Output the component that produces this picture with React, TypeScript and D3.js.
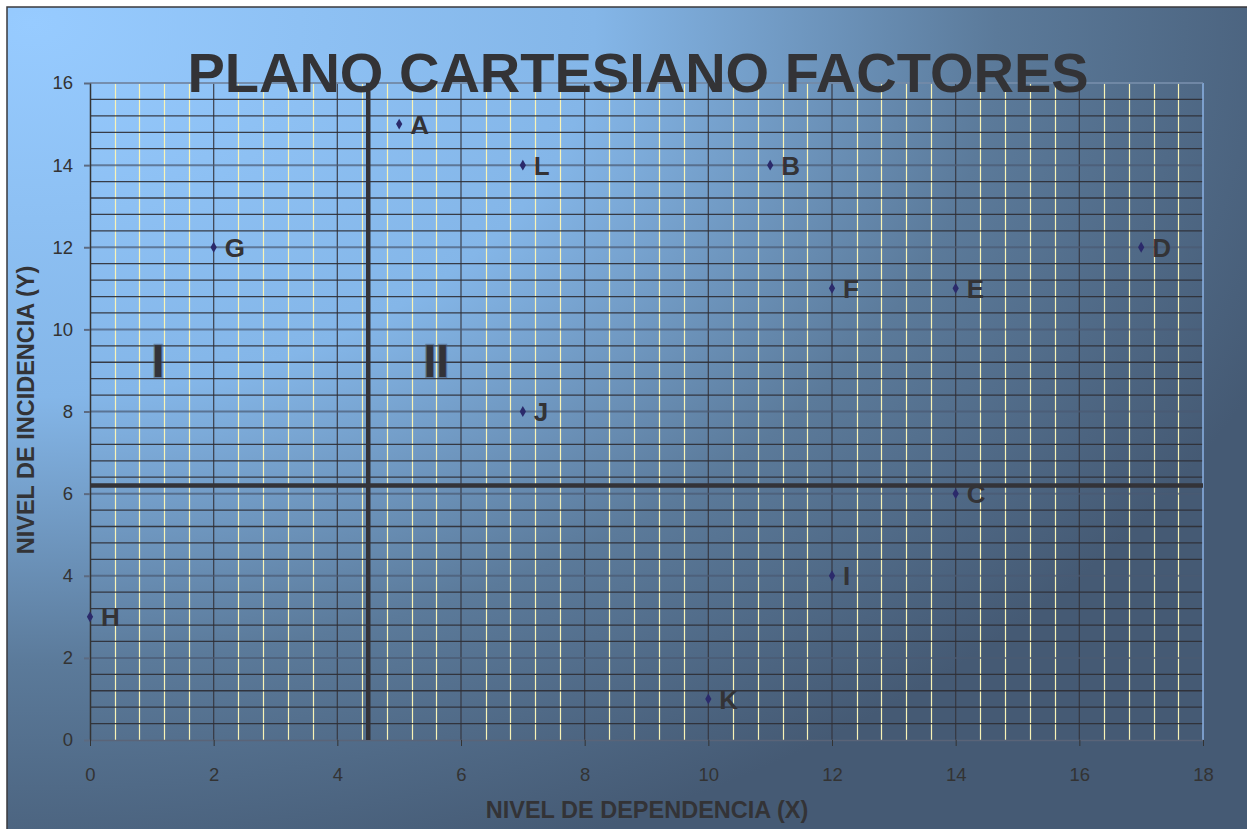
import React, { useEffect, useRef } from 'react';
import * as d3 from 'd3';

// factor points (x = dependencia, y = incidencia)
const pointLabels = ['A', 'L', 'B', 'G', 'D', 'F', 'E', 'J', 'C', 'I', 'H', 'K'];
const xValues = [5, 7, 11, 2, 17, 12, 14, 7, 14, 12, 0, 10];
const yValues = [15, 14, 14, 12, 12, 11, 11, 8, 6, 4, 3, 1];

const xTicks = [0, 2, 4, 6, 8, 10, 12, 14, 16, 18];
const yTicks = [0, 2, 4, 6, 8, 10, 12, 14, 16];

// quadrant dividers and quadrant names
const xDivider = 4.5;
const yDivider = 6.2;
const quadrantNames = ['I', 'II'];
const quadrantX = [1.1, 5.6];
const quadrantY = [8.85, 8.85];

const FONT = '"Liberation Sans", Arial, Helvetica, sans-serif';

const App = () => {
  const svgRef = useRef(null);

  useEffect(() => {
    const W = 1247;
    const H = 829;
    const margin = { top: 83, right: 44, bottom: 89, left: 90 };
    const width = W - margin.left - margin.right;
    const height = H - margin.top - margin.bottom;

    const svg = d3.select(svgRef.current);
    svg.selectAll('*').remove();
    svg.attr('width', W).attr('height', H).attr('viewBox', [0, 0, W, H]);

    // background gradient
    const defs = svg.append('defs');
    const grad = defs.append('radialGradient')
      .attr('id', 'bg')
      .attr('cx', 0.02).attr('cy', 0.02).attr('r', 1.08)
      .attr('fx', 0.02).attr('fy', 0.02);
    grad.append('stop').attr('offset', '0%').attr('stop-color', '#97cbff');
    grad.append('stop').attr('offset', '42%').attr('stop-color', '#84b6e8');
    grad.append('stop').attr('offset', '72%').attr('stop-color', '#5b7a9a');
    grad.append('stop').attr('offset', '100%').attr('stop-color', '#455a74');

    svg.append('rect')
      .attr('x', 7).attr('y', 7)
      .attr('width', W - 6).attr('height', H - 6)
      .attr('fill', 'url(#bg)')
      .attr('stroke', '#3a3a3e')
      .attr('stroke-width', 1.5);

    const x = d3.scaleLinear().domain([0, 18]).range([0, width]);
    const y = d3.scaleLinear().domain([0, 16]).range([height, 0]);

    const g = svg.append('g').attr('transform', `translate(${margin.left},${margin.top})`);

    // vertical grid: minor every 0.4 (yellow), major every 2 (dark)
    const xGrid = d3.range(0, 46).map(i => i * 0.4);
    g.append('g').selectAll('line')
      .data(xGrid.filter((d, i) => i % 5 !== 0))
      .join('line')
      .attr('x1', d => Math.round(x(d)) + 0.5).attr('x2', d => Math.round(x(d)) + 0.5)
      .attr('y1', 0).attr('y2', height)
      .attr('stroke', '#f8f3b6')
      .attr('stroke-width', 1.2);
    g.append('g').selectAll('line')
      .data(xTicks.filter(d => d > 0 && d < 18))
      .join('line')
      .attr('x1', d => x(d)).attr('x2', d => x(d))
      .attr('y1', 0).attr('y2', height)
      .attr('stroke', '#34343c')
      .attr('stroke-opacity', 0.85)
      .attr('stroke-width', 1.3);

    // horizontal grid: minor every 0.4 (dark), major every 2 (grey blue)
    const yGrid = d3.range(0, 41).map(i => i * 0.4);
    g.append('g').selectAll('line')
      .data(yGrid.filter((d, i) => i % 5 !== 0))
      .join('line')
      .attr('x1', 0).attr('x2', width)
      .attr('y1', d => y(d)).attr('y2', d => y(d))
      .attr('stroke', '#2e2e34')
      .attr('stroke-opacity', 0.9)
      .attr('stroke-width', 1.3);
    g.append('g').selectAll('line')
      .data(yTicks.filter(d => d > 0))
      .join('line')
      .attr('x1', 0).attr('x2', width)
      .attr('y1', d => y(d)).attr('y2', d => y(d))
      .attr('stroke', '#4a5a72')
      .attr('stroke-opacity', 0.7)
      .attr('stroke-width', 2);

    // right and top border of plot
    g.append('line')
      .attr('x1', width).attr('x2', width)
      .attr('y1', 0).attr('y2', height)
      .attr('stroke', '#8db3e6').attr('stroke-width', 1.5);
    g.append('line')
      .attr('x1', 0).attr('x2', width)
      .attr('y1', 0).attr('y2', 0)
      .attr('stroke', '#7d96b4').attr('stroke-width', 1.5);

    // axes
    const xAxis = g.append('g')
      .attr('transform', `translate(0,${height})`)
      .call(d3.axisBottom(x).tickValues(xTicks).tickSize(6).tickPadding(22).tickSizeOuter(0));
    xAxis.select('.domain').attr('stroke', '#5a6478').attr('stroke-width', 1.5);
    xAxis.selectAll('.tick line').attr('stroke', '#333');
    xAxis.selectAll('.tick text')
      .attr('fill', '#333').attr('font-size', 18.5).attr('font-family', FONT);

    const yAxis = g.append('g')
      .call(d3.axisLeft(y).tickValues(yTicks).tickSize(6).tickPadding(11).tickSizeOuter(0));
    yAxis.select('.domain').attr('stroke', '#333').attr('stroke-width', 1.5);
    yAxis.selectAll('.tick line').attr('stroke', '#5c6a80').attr('stroke-width', 2);
    yAxis.selectAll('.tick text')
      .attr('fill', '#333').attr('font-size', 18.5).attr('font-family', FONT);

    // quadrant dividers
    g.append('line')
      .attr('x1', x(xDivider)).attr('x2', x(xDivider))
      .attr('y1', 0).attr('y2', height)
      .attr('stroke', '#333338').attr('stroke-width', 4.5);
    g.append('line')
      .attr('x1', 0).attr('x2', width)
      .attr('y1', y(yDivider)).attr('y2', y(yDivider))
      .attr('stroke', '#333338').attr('stroke-width', 4.5);

    // quadrant names
    g.selectAll('.quad')
      .data(quadrantNames)
      .join('text')
      .attr('class', 'quad')
      .attr('x', (d, i) => x(quadrantX[i]))
      .attr('y', (d, i) => y(quadrantY[i]))
      .attr('text-anchor', 'middle')
      .attr('font-family', FONT)
      .attr('font-weight', 'bold')
      .attr('font-size', 46)
      .attr('fill', '#333338')
      .attr('stroke', 'rgba(70,85,110,0.55)')
      .attr('stroke-width', 2.5)
      .attr('paint-order', 'stroke')
      .text(d => d);

    // points
    const pts = pointLabels.map((label, i) => ({ label, xv: xValues[i], yv: yValues[i] }));
    g.selectAll('.pt')
      .data(pts)
      .join('path')
      .attr('class', 'pt')
      .attr('d', d3.symbol(d3.symbolDiamond, 34))
      .attr('transform', d => `translate(${x(d.xv)},${y(d.yv)})`)
      .attr('fill', '#2b2a6b');

    g.selectAll('.lbl')
      .data(pts)
      .join('text')
      .attr('class', 'lbl')
      .attr('x', d => x(d.xv) + 11)
      .attr('y', d => y(d.yv))
      .attr('dy', '0.37em')
      .attr('font-family', FONT)
      .attr('font-weight', 'bold')
      .attr('font-size', 26)
      .attr('fill', '#333336')
      .text(d => d.label);

    // title
    svg.append('text')
      .attr('x', 638).attr('y', 92)
      .attr('text-anchor', 'middle')
      .attr('font-family', FONT)
      .attr('font-weight', 'bold')
      .attr('font-size', 56)
      .attr('fill', '#333336')
      .text('PLANO CARTESIANO FACTORES');

    // axis titles
    svg.append('text')
      .attr('x', 647).attr('y', 818)
      .attr('text-anchor', 'middle')
      .attr('font-family', FONT)
      .attr('font-weight', 'bold')
      .attr('font-size', 23.5)
      .attr('fill', '#333336')
      .text('NIVEL DE DEPENDENCIA (X)');

    svg.append('text')
      .attr('transform', 'translate(34,410) rotate(-90)')
      .attr('text-anchor', 'middle')
      .attr('font-family', FONT)
      .attr('font-weight', 'bold')
      .attr('font-size', 23.5)
      .attr('fill', '#333336')
      .text('NIVEL DE INCIDENCIA (Y)');
  }, []);

  return (
    <svg
      ref={svgRef}
      style={{ position: 'absolute', left: 0, top: 0, display: 'block' }}
    ></svg>
  );
};

export default App;
